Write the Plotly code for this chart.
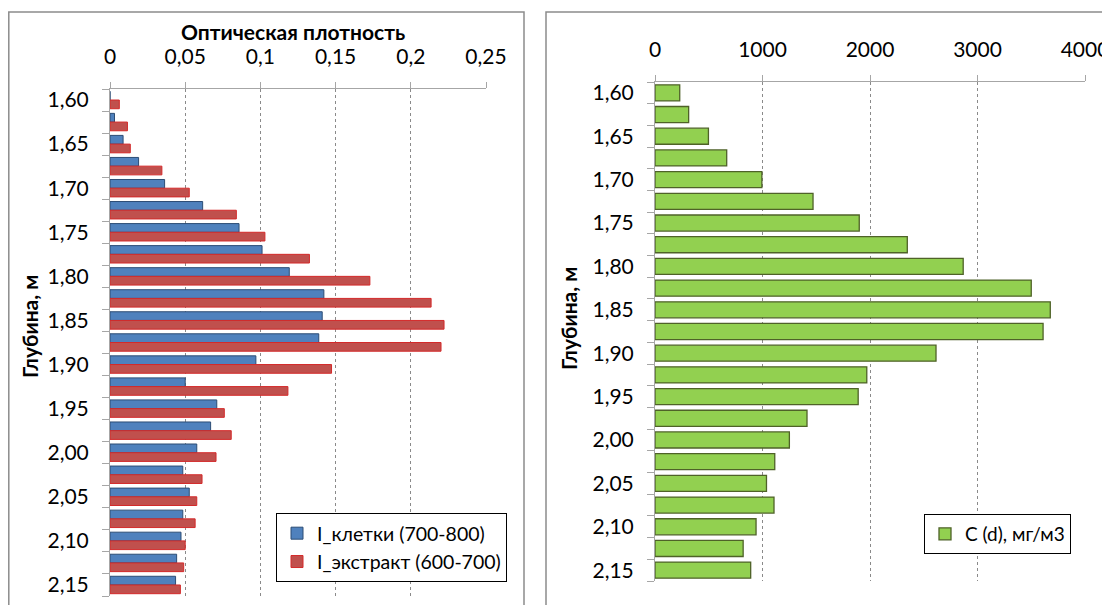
import plotly.graph_objects as go
from plotly.subplots import make_subplots

depth = [1.600, 1.625, 1.650, 1.675, 1.700, 1.725, 1.750, 1.775, 1.800, 1.825,
         1.850, 1.875, 1.900, 1.925, 1.950, 1.975, 2.000, 2.025, 2.050, 2.075,
         2.100, 2.125, 2.150]
i_cells = [0.0, 0.0030, 0.0087, 0.0190, 0.0363, 0.0616, 0.0858, 0.1011, 0.1192, 0.1422,
           0.1411, 0.1388, 0.0970, 0.0500, 0.0710, 0.0669, 0.0577, 0.0484, 0.0527, 0.0484,
           0.0472, 0.0443, 0.0436]
i_extract = [0.0062, 0.0116, 0.0135, 0.0345, 0.0527, 0.0840, 0.1030, 0.1326, 0.1728, 0.2135,
             0.2221, 0.2201, 0.1473, 0.1183, 0.0760, 0.0806, 0.0705, 0.0612, 0.0577, 0.0566,
             0.0500, 0.0490, 0.0468]
conc = [230, 313, 497, 667, 994, 1470, 1900, 2347, 2867, 3500,
        3677, 3610, 2614, 1970, 1890, 1414, 1250, 1114, 1037, 1107,
        940, 820, 890]

depth_ticks = [1.60, 1.65, 1.70, 1.75, 1.80, 1.85, 1.90, 1.95, 2.00, 2.05, 2.10, 2.15]
depth_ticktext = ["1,60", "1,65", "1,70", "1,75", "1,80", "1,85", "1,90", "1,95",
                  "2,00", "2,05", "2,10", "2,15"]
od_ticks = [0, 0.05, 0.1, 0.15, 0.2, 0.25]
od_ticktext = ["0", "0,05", "0,1", "0,15", "0,2", "0,25"]
c_ticks = [0, 1000, 2000, 3000, 4000]
c_ticktext = ["0", "1000", "2000", "3000", "4000"]

names = ["I_клетки (700-800)", "I_экстракт (600-700)", "C (d), мг/м3"]

# the page body has an 8px margin, so the figure is sized to fill the rest of the window
OFF = 8
W, H = 1110 - OFF, 605 - OFF
FONT = "Lato, 'Noto Sans', sans-serif"
step = 0.025
bounds = [depth[0] - step / 2 + step * k for k in range(len(depth) + 1)]

fig = make_subplots(rows=1, cols=2)

fig.add_trace(go.Bar(y=depth, x=i_cells, orientation="h", name=names[0],
                     marker=dict(color="#4F81BD", line=dict(color="#2C4D75", width=1)),
                     legend="legend"), row=1, col=1)
fig.add_trace(go.Bar(y=depth, x=i_extract, orientation="h", name=names[1],
                     marker=dict(color="#C0504D", line=dict(color="#D42A2A", width=1)),
                     legend="legend"), row=1, col=1)
fig.add_trace(go.Bar(y=depth, x=conc, orientation="h", name=names[2],
                     width=step * 0.74, offset=-step * 0.37,
                     marker=dict(color="#92D050", line=dict(color="#4F6228", width=1.3)),
                     legend="legend2"), row=1, col=2)

def px_x(p):
    return (p - OFF) / W

def px_y(p):
    return 1 - (p - OFF) / H

axis_font = dict(family=FONT, size=21, color="black")
grid = dict(showgrid=True, gridcolor="#8A8A8A", gridwidth=1, griddash="3px,3px")

fig.update_xaxes(row=1, col=1, domain=[px_x(110), px_x(486)], range=[0, 0.25], side="top",
                 tickvals=od_ticks, ticktext=od_ticktext, ticks="outside", ticklen=6,
                 tickcolor="#A6A6A6", showline=True, linecolor="#A6A6A6", linewidth=1,
                 zeroline=False, tickfont=axis_font, ticklabelstandoff=10,
                 automargin=False, **grid)
fig.update_xaxes(row=1, col=2, domain=[px_x(655), px_x(1085)], range=[0, 4000], side="top",
                 tickvals=c_ticks, ticktext=c_ticktext, ticks="outside", ticklen=6,
                 tickcolor="#A6A6A6", showline=True, linecolor="#A6A6A6", linewidth=1,
                 zeroline=False, tickfont=axis_font, ticklabelstandoff=10,
                 automargin=False, **grid)

yax_common = dict(range=[bounds[-1], bounds[0]], tickvals=depth_ticks, ticktext=depth_ticktext,
                  ticks="", showline=True, linecolor="#A6A6A6", linewidth=1, showgrid=False,
                  zeroline=False, tickfont=axis_font, ticklabelstandoff=16, automargin=False,
                  minor=dict(tickvals=bounds, ticks="outside", ticklen=7,
                             tickcolor="#A6A6A6", showgrid=False))
fig.update_yaxes(row=1, col=1, domain=[px_y(596), px_y(89)], **yax_common)
fig.update_yaxes(row=1, col=2, domain=[px_y(581), px_y(82)], **yax_common)

fig.update_layout(
    width=W, height=H,
    margin=dict(l=0, r=0, t=0, b=0),
    paper_bgcolor="white", plot_bgcolor="white",
    barmode="group", bargap=0.21, bargroupgap=0,
    font=dict(family=FONT, color="black"),
    legend=dict(x=px_x(276), y=px_y(513), xanchor="left", yanchor="top",
                bgcolor="white", bordercolor="black", borderwidth=1,
                font=dict(family=FONT, size=19.5, color="black"), tracegroupgap=0),
    legend2=dict(x=px_x(924), y=px_y(514), xanchor="left", yanchor="top",
                 bgcolor="white", bordercolor="black", borderwidth=1,
                 font=dict(family=FONT, size=19, color="black")),
    shapes=[
        dict(type="rect", xref="paper", yref="paper", x0=px_x(8.8), x1=px_x(524),
             y0=-0.2, y1=px_y(12), line=dict(color="#8C8C8C", width=1.5), layer="below"),
        dict(type="rect", xref="paper", yref="paper", x0=px_x(546), x1=1.2,
             y0=-0.2, y1=px_y(12), line=dict(color="#8C8C8C", width=1.5), layer="below"),
    ],
    annotations=[
        dict(text="<b>Оптическая плотность</b>", xref="paper", yref="paper",
             x=px_x(293), y=px_y(32), xanchor="center", yanchor="middle", showarrow=False,
             font=dict(family=FONT, size=21, color="black")),
        dict(text="<b>Глубина, м</b>", xref="paper", yref="paper", textangle=-90,
             x=px_x(29), y=px_y(327), xanchor="center", yanchor="middle", showarrow=False,
             font=dict(family=FONT, size=21, color="black")),
        dict(text="<b>Глубина, м</b>", xref="paper", yref="paper", textangle=-90,
             x=px_x(568), y=px_y(319), xanchor="center", yanchor="middle", showarrow=False,
             font=dict(family=FONT, size=21, color="black")),
    ],
)

fig.write_html("out.html")
